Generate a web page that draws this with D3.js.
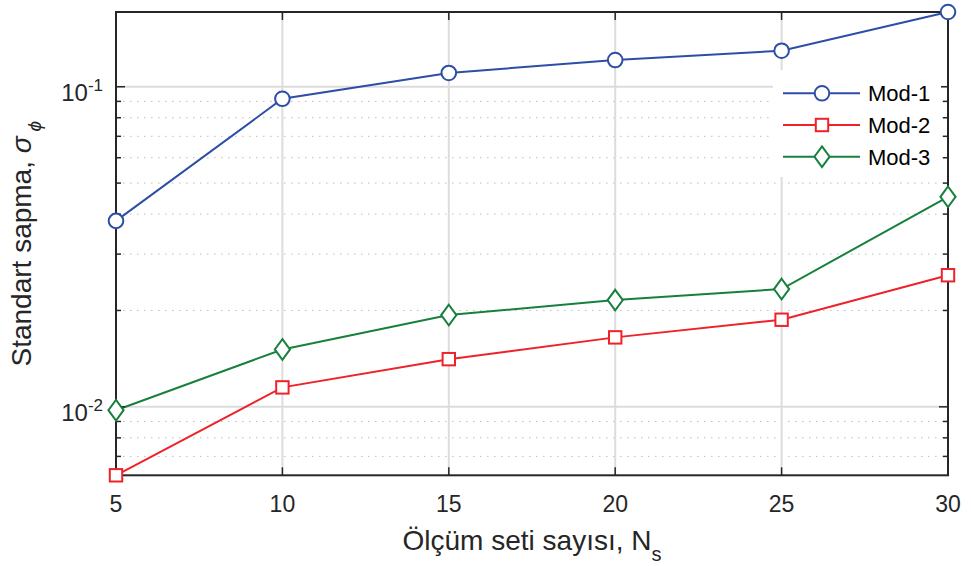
<!DOCTYPE html>
<html>
<head>
<meta charset="utf-8">
<script src="https://cdn.jsdelivr.net/npm/d3@7"></script>
<style>
  html, body { margin: 0; padding: 0; background: #fff; }
  svg { display: block; }
  text { font-family: "Liberation Sans", Arial, Helvetica, sans-serif; fill: #262626; }
</style>
</head>
<body>
<svg id="chart" width="971" height="566"></svg>
<script>
// ---- data ----
const nsValues = [5, 10, 15, 20, 25, 30];
const mod1 = [0.0381, 0.0917, 0.1104, 0.1212, 0.1296, 0.1712];
const mod2 = [0.00611, 0.01150, 0.01409, 0.01648, 0.01871, 0.02577];
const mod3 = [0.00976, 0.01511, 0.01935, 0.02155, 0.02333, 0.04531];
const seriesNames = ["Mod-1", "Mod-2", "Mod-3"];
const xTicks = [5, 10, 15, 20, 25, 30];
const yMajorExps = [-2, -1];
const xLabel = "Ölçüm seti sayısı, N";
const xLabelSub = "s";
const yLabel = "Standart sapma, ";

// ---- layout ----
const svg = d3.select("#chart");
const L = 116, R = 948, T = 12, B = 475.3;
const colors = ["#2d4ea6", "#ee2229", "#17803c"];
const markers = ["circle", "square", "diamond"];
const series = [mod1, mod2, mod3];

const x = d3.scaleLinear().domain(d3.extent(nsValues)).range([L, R]);
const allY = mod1.concat(mod2, mod3);
const y = d3.scaleLog().domain([d3.min(allY), d3.max(allY)]).range([B, T]);

const yMin = y.domain()[0], yMax = y.domain()[1];
const minorVals = [];
const majorVals = [];
for (let e = -3; e <= 0; e++) {
  const base = Math.pow(10, e);
  for (let k = 1; k <= 9; k++) {
    const v = k * base;
    if (v >= yMin && v <= yMax) { (k === 1 ? majorVals : minorVals).push(v); }
  }
}

const grid = svg.append("g");
// minor grid (dotted)
grid.selectAll(".ymin").data(minorVals).enter().append("line")
  .attr("x1", L).attr("x2", R)
  .attr("y1", d => y(d)).attr("y2", d => y(d))
  .attr("stroke", "#bdbdbd").attr("stroke-width", 1)
  .attr("stroke-dasharray", "1.5,5.5");
// major grid
grid.selectAll(".ymaj").data(majorVals).enter().append("line")
  .attr("x1", L).attr("x2", R)
  .attr("y1", d => y(d)).attr("y2", d => y(d))
  .attr("stroke", "#dcdcdc").attr("stroke-width", 2);
grid.selectAll(".xg").data(xTicks).enter().append("line")
  .attr("x1", d => x(d)).attr("x2", d => x(d))
  .attr("y1", T).attr("y2", B)
  .attr("stroke", "#dcdcdc").attr("stroke-width", 2);

// ---- series lines ----
const line = d3.line().x((d, i) => x(nsValues[i])).y(d => y(d));
const plot = svg.append("g");
series.forEach((s, si) => {
  plot.append("path").datum(s)
    .attr("d", line)
    .attr("fill", "none")
    .attr("stroke", colors[si])
    .attr("stroke-width", 2);
});

function drawMarker(g, type, cx, cy, color) {
  if (type === "circle") {
    g.append("circle").attr("cx", cx).attr("cy", cy).attr("r", 7.3)
      .attr("fill", "#fff").attr("stroke", color).attr("stroke-width", 2);
  } else if (type === "square") {
    g.append("rect").attr("x", cx - 6.2).attr("y", cy - 6.2).attr("width", 12.4).attr("height", 12.4)
      .attr("fill", "#fff").attr("stroke", color).attr("stroke-width", 2);
  } else {
    const w = 7.6, h = 10.3;
    g.append("path").attr("d", `M${cx},${cy - h}L${cx + w},${cy}L${cx},${cy + h}L${cx - w},${cy}Z`)
      .attr("fill", "#fff").attr("stroke", color).attr("stroke-width", 2);
  }
}

// ---- axes box & ticks ----
const axes = svg.append("g");
const tickColor = "#262626";
majorVals.forEach(v => {
  axes.append("line").attr("x1", L).attr("x2", L + 9).attr("y1", y(v)).attr("y2", y(v)).attr("stroke", tickColor).attr("stroke-width", 1.5);
  axes.append("line").attr("x1", R).attr("x2", R - 9).attr("y1", y(v)).attr("y2", y(v)).attr("stroke", tickColor).attr("stroke-width", 1.5);
});
minorVals.forEach(v => {
  axes.append("line").attr("x1", L).attr("x2", L + 5).attr("y1", y(v)).attr("y2", y(v)).attr("stroke", tickColor).attr("stroke-width", 1.5);
  axes.append("line").attr("x1", R).attr("x2", R - 5).attr("y1", y(v)).attr("y2", y(v)).attr("stroke", tickColor).attr("stroke-width", 1.5);
});
xTicks.forEach(v => {
  axes.append("line").attr("x1", x(v)).attr("x2", x(v)).attr("y1", B).attr("y2", B - 8).attr("stroke", tickColor).attr("stroke-width", 1.5);
  axes.append("line").attr("x1", x(v)).attr("x2", x(v)).attr("y1", T).attr("y2", T + 8).attr("stroke", tickColor).attr("stroke-width", 1.5);
});

// ---- legend ----
const leg = svg.append("g");
leg.append("rect").attr("x", 773).attr("y", 70).attr("width", 168).attr("height", 107).attr("fill", "#fff");
const legRows = [93.3, 125, 156.7];
seriesNames.forEach((name, i) => {
  leg.append("line").attr("x1", 783).attr("x2", 860).attr("y1", legRows[i]).attr("y2", legRows[i])
    .attr("stroke", colors[i]).attr("stroke-width", 2);
  drawMarker(leg, markers[i], 822, legRows[i], colors[i]);
  leg.append("text").attr("x", 868).attr("y", legRows[i] + 8).attr("font-size", 22).style("fill", "#000").text(name);
});

// frame
axes.append("rect").attr("x", L).attr("y", T).attr("width", R - L).attr("height", B - T)
  .attr("fill", "none").attr("stroke", tickColor).attr("stroke-width", 2);
svg.node().appendChild(axes.node());
svg.node().appendChild(leg.node());

// markers on top
const mk = svg.append("g");
series.forEach((s, si) => {
  s.forEach((v, i) => drawMarker(mk, markers[si], x(nsValues[i]), y(v), colors[si]));
});

// ---- tick labels ----
const labels = svg.append("g");
xTicks.forEach(v => {
  labels.append("text").attr("x", x(v)).attr("y", 512).attr("text-anchor", "middle")
    .attr("font-size", 23).text(v);
});
yMajorExps.forEach(e => {
  const t = labels.append("text").attr("x", 103).attr("y", y(Math.pow(10, e)) + 14)
    .attr("text-anchor", "end").attr("font-size", 24);
  t.append("tspan").text("10");
  t.append("tspan").attr("font-size", 17).attr("dy", -10).text("-" + Math.abs(e));
});

// axis labels
const xl = labels.append("text").attr("x", 532).attr("y", 550).attr("text-anchor", "middle").attr("font-size", 28);
xl.append("tspan").text(xLabel);
xl.append("tspan").attr("font-size", 20).attr("dy", 11).text(xLabelSub);

const yl = labels.append("text").attr("transform", `translate(31,${(T + B) / 2}) rotate(-90)`)
  .attr("text-anchor", "middle").attr("font-size", 28);
yl.append("tspan").text(yLabel);
yl.append("tspan").attr("font-style", "italic").text("σ");
yl.append("tspan").attr("font-style", "italic").attr("font-size", 19).attr("dx", 5).attr("dy", 10).text("ϕ");
</script>
</body>
</html>
